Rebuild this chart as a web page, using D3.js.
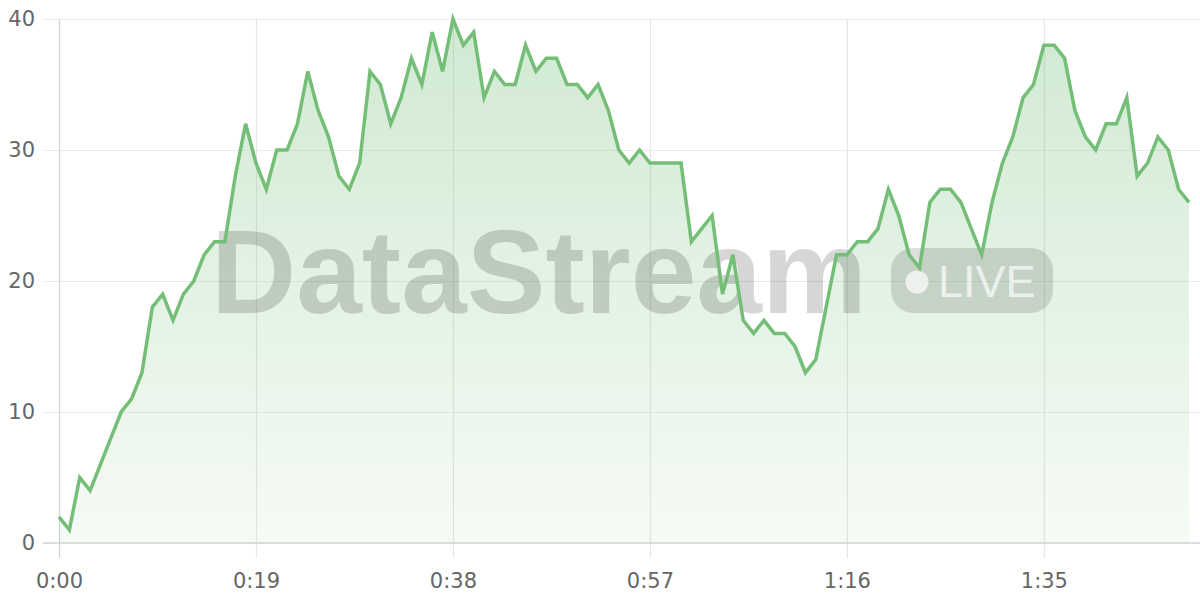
<!DOCTYPE html>
<html>
<head>
<meta charset="utf-8">
<script src="https://cdn.jsdelivr.net/npm/d3@7"></script>
<style>
  html, body { margin: 0; padding: 0; background: #fff; }
  svg { display: block; }
</style>
</head>
<body>
<svg id="chart" width="1200" height="600"></svg>
<script>
// Data: one value per second, 0..109 s
const values = [
  2, 1, 5, 4, 6, 8, 10, 11, 13, 18,
  19, 17, 19, 20, 22, 23, 23, 28, 32, 29,
  27, 30, 30, 32, 36, 33, 31, 28, 27, 29,
  36, 35, 32, 34, 37, 35, 39, 36, 40, 38,
  39, 34, 36, 35, 35, 38, 36, 37, 37, 35,
  35, 34, 35, 33, 30, 29, 30, 29, 29, 29,
  29, 23, 24, 25, 19, 22, 17, 16, 17, 16,
  16, 15, 13, 14, 18, 22, 22, 23, 23, 24,
  27, 25, 22, 21, 26, 27, 27, 26, 24, 22,
  26, 29, 31, 34, 35, 38, 38, 37, 33, 31,
  30, 32, 32, 34, 28, 29, 31, 30, 27, 26
];
const seconds = values.map((_, i) => i);
const xTickValues = [0, 19, 38, 57, 76, 95];
const yTickValues = [0, 10, 20, 30, 40];
const watermarkText = "DataStream";
const badgeText = "LIVE";

const data = seconds.map((s, i) => ({ t: s, v: values[i] }));

const svg = d3.select("#chart");
const W = 1200, H = 600;
const x = d3.scaleLinear().domain([0, 109]).range([59, 1189]);
const y = d3.scaleLinear().domain([0, 40]).range([543, 19]);

const fmt = s => Math.floor(s / 60) + ":" + String(s % 60).padStart(2, "0");

// gradient
const defs = svg.append("defs");
const grad = defs.append("linearGradient").attr("id", "areaGrad")
  .attr("gradientUnits", "userSpaceOnUse")
  .attr("x1", 0).attr("x2", 0).attr("y1", y(40)).attr("y2", y(0));
grad.append("stop").attr("offset", "0%").attr("stop-color", "#76c07a").attr("stop-opacity", 0.34);
grad.append("stop").attr("offset", "100%").attr("stop-color", "#76c07a").attr("stop-opacity", 0.07);

// horizontal grid + y labels
const yAxis = d3.axisLeft(y).tickValues(yTickValues).tickSize(-(W - 43)).tickPadding(8);
const gy = svg.append("g").attr("transform", "translate(43,0)").call(yAxis);
gy.select(".domain").remove();
gy.selectAll(".tick line").attr("stroke", "#ebebeb").attr("stroke-width", 1.2);
gy.selectAll(".tick text")
  .attr("x", -8)
  .attr("fill", "#666").attr("font-family", "DejaVu Sans, sans-serif").attr("font-size", 21);

// vertical grid + x labels
const xAxis = d3.axisBottom(x).tickValues(xTickValues).tickFormat(fmt)
  .tickSize(-(558 - 19)).tickPadding(0);
const gx = svg.append("g").attr("transform", "translate(0,558)").call(xAxis);
gx.select(".domain").remove();
gx.selectAll(".tick line").attr("stroke", "#e6e6e6").attr("stroke-width", 1.2);
gx.selectAll(".tick line").filter(d => d === 0).attr("stroke", "#d2d2d2");
gx.selectAll(".tick text")
  .attr("y", 15)
  .attr("fill", "#666").attr("font-family", "DejaVu Sans, sans-serif").attr("font-size", 21);

// x axis baseline
svg.append("line").attr("x1", 43).attr("x2", W).attr("y1", y(0)).attr("y2", y(0))
  .attr("stroke", "#d6d6d6").attr("stroke-width", 1.5);

// area
const area = d3.area().x(d => x(d.t)).y0(y(0)).y1(d => y(d.v));
svg.append("path").datum(data).attr("d", area).attr("fill", "url(#areaGrad)");

// watermark
const wm = svg.append("g");
wm.append("text").text(watermarkText)
  .attr("x", 211).attr("y", 313)
  .attr("font-family", "Liberation Sans, Arial, sans-serif")
  .attr("font-weight", "bold").attr("font-size", 118)
  .attr("fill", "#000").attr("fill-opacity", 0.16);
wm.append("rect").attr("x", 891).attr("y", 248).attr("width", 162).attr("height", 65)
  .attr("rx", 22).attr("fill", "#000").attr("fill-opacity", 0.13);
wm.append("circle").attr("cx", 917).attr("cy", 282).attr("r", 11.5)
  .attr("fill", "#fff").attr("fill-opacity", 0.7);
wm.append("text").text(badgeText)
  .attr("x", 938).attr("y", 297)
  .attr("font-family", "Liberation Sans, Arial, sans-serif")
  .attr("font-size", 45)
  .attr("fill", "#fff").attr("fill-opacity", 0.7);

// line
const line = d3.line().x(d => x(d.t)).y(d => y(d.v));
svg.append("path").datum(data).attr("d", line)
  .attr("fill", "none").attr("stroke", "#74be77").attr("stroke-width", 3.5)
  .attr("stroke-linejoin", "miter");
</script>
</body>
</html>
